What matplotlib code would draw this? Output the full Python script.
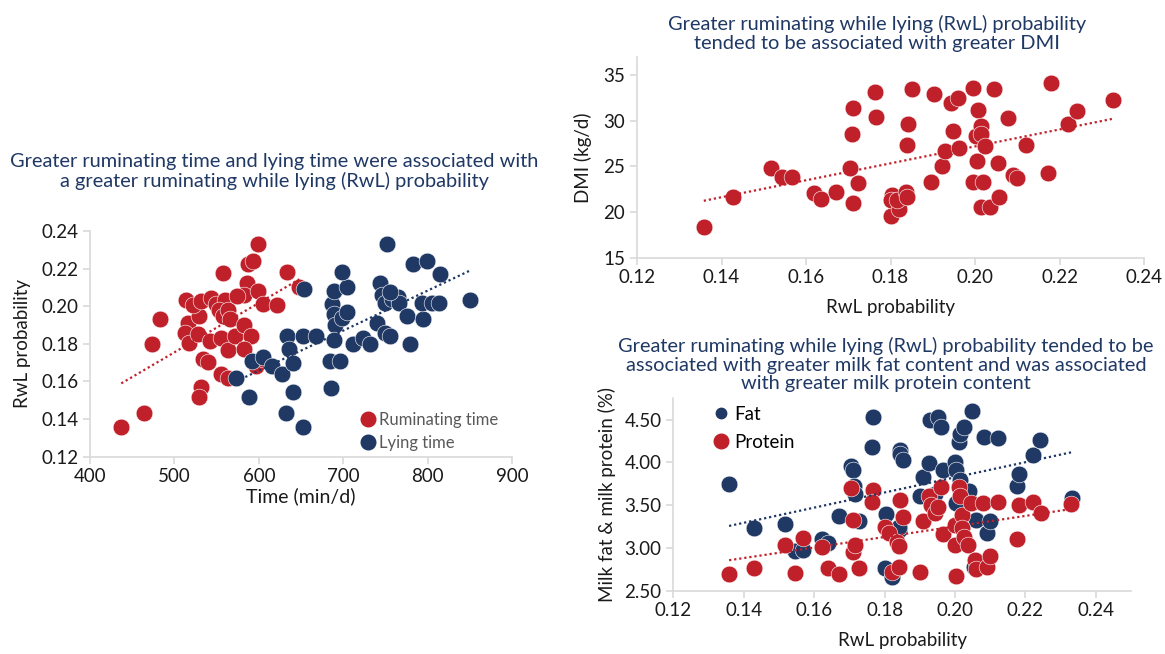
import numpy as np
import matplotlib
matplotlib.use("Agg")
import matplotlib.pyplot as plt
from matplotlib.lines import Line2D

plt.rcParams['font.family'] = ['Lato', 'DejaVu Sans']

RED = '#C0202A'
NAVY = '#1F3864'
TITLE = '#1F3864'
SPINE = '#D9D9D9'
TXT = '#1a1a1a'

# --- left chart: RwL probability vs time ---
rum_time = [437, 464, 473, 483, 514, 516, 513, 517, 528, 529, 522, 532, 543, 549,
            560, 553, 557, 563, 566, 542, 555, 564, 572, 583, 591, 583, 534, 540,
            555, 564, 532, 529, 557, 586, 582, 574, 587, 593, 599, 599, 605, 622,
            633, 648, 597, 605]
rum_prob = [0.136, 0.143, 0.180, 0.193, 0.2035, 0.191, 0.1855, 0.1805, 0.185, 0.195,
            0.2005, 0.203, 0.2046, 0.2014, 0.2035, 0.198, 0.1947, 0.198, 0.1934, 0.1816,
            0.183, 0.1766, 0.184, 0.190, 0.184, 0.177, 0.172, 0.1704, 0.164, 0.1616,
            0.157, 0.152, 0.2177, 0.2124, 0.206, 0.2055, 0.2226, 0.224, 0.233, 0.208,
            0.2014, 0.2005, 0.218, 0.210, 0.168, 0.172]

lie_time = [573, 588, 592, 605, 616, 627, 633, 636, 640, 640, 632, 652, 652, 668,
            654, 687, 689, 689, 690, 689, 699, 705, 705, 699, 684, 696, 686, 711,
            723, 732, 740, 743, 746, 750, 752, 758, 765, 766, 750, 756, 775, 779,
            783, 799, 815, 795, 793, 805, 813, 850, 755]
lie_prob = [0.162, 0.152, 0.171, 0.173, 0.168, 0.164, 0.184, 0.177, 0.170, 0.1545,
            0.143, 0.136, 0.184, 0.184, 0.209, 0.201, 0.208, 0.196, 0.190, 0.182,
            0.194, 0.197, 0.210, 0.218, 0.171, 0.171, 0.1565, 0.180, 0.183, 0.180,
            0.191, 0.2124, 0.206, 0.2015, 0.233, 0.204, 0.205, 0.2015, 0.1855, 0.184,
            0.1947, 0.180, 0.2226, 0.224, 0.2173, 0.193, 0.2017, 0.2017, 0.2017, 0.2035,
            0.2075]

# --- top right: DMI vs RwL probability ---
dmi_rwl = [0.1358, 0.1428, 0.1516, 0.1544, 0.1566, 0.1619, 0.1636, 0.1671, 0.1703,
           0.1708, 0.1710, 0.1712, 0.1724, 0.1763, 0.1765, 0.1800, 0.1803, 0.1800,
           0.1820, 0.1815, 0.1836, 0.1838, 0.1840, 0.1842, 0.1851, 0.1895, 0.1904,
           0.1922, 0.1929, 0.1947, 0.1944, 0.1959, 0.1962, 0.1995, 0.1995, 0.2004,
           0.2006, 0.2002, 0.2014, 0.2014, 0.2018, 0.2023, 0.2015, 0.2036, 0.2045,
           0.2055, 0.2057, 0.2078, 0.2091, 0.2100, 0.2120, 0.2173, 0.2180, 0.2220,
           0.2241, 0.2327]
dmi = [18.4, 21.7, 24.8, 23.8, 23.8, 22.1, 21.4, 22.2, 24.8, 28.6, 31.4, 21.0, 23.2,
       33.2, 30.4, 19.6, 21.9, 21.3, 20.3, 21.3, 22.2, 21.6, 27.3, 29.7, 33.5, 23.3,
       32.9, 25.0, 26.7, 28.9, 31.9, 32.5, 27.0, 33.6, 23.3, 25.6, 31.2, 28.3, 29.4,
       28.6, 23.3, 27.2, 20.5, 20.5, 33.5, 25.4, 21.7, 30.3, 24.1, 23.7, 27.3, 24.3,
       34.2, 29.7, 31.1, 32.3]

# --- bottom right: milk fat & protein vs RwL probability ---
fat_rwl = [0.1358, 0.1430, 0.1518, 0.1545, 0.1568, 0.1622, 0.1638, 0.1671, 0.1704,
           0.1710, 0.1713, 0.1715, 0.1726, 0.1766, 0.1765, 0.1804, 0.1801, 0.1820,
           0.1843, 0.1845, 0.1853, 0.1842, 0.1840, 0.1900, 0.1908, 0.1925, 0.1930,
           0.1953, 0.1960, 0.1966, 0.1944, 0.2001, 0.2004, 0.2010, 0.2015, 0.2026,
           0.2048, 0.2015, 0.2002, 0.2040, 0.2059, 0.2054, 0.2081, 0.2092, 0.2100,
           0.2122, 0.2175, 0.2182, 0.2221, 0.2241, 0.2331]
fat = [3.75, 3.23, 3.28, 2.96, 2.98, 3.11, 3.06, 3.37, 3.96, 3.91, 3.72, 3.63, 3.31,
       4.53, 4.18, 3.40, 2.77, 2.66, 4.14, 4.10, 4.03, 3.21, 3.24, 3.61, 3.83, 3.99,
       4.50, 4.53, 4.41, 3.91, 3.63, 4.00, 3.91, 4.24, 4.33, 4.42, 4.60, 3.79, 3.53,
       3.67, 3.33, 2.78, 4.30, 3.17, 3.32, 4.29, 3.73, 3.87, 4.09, 4.26, 3.58]

prot_rwl = [0.1358, 0.1430, 0.1518, 0.1545, 0.1568, 0.1622, 0.1638, 0.1671, 0.1704,
            0.1710, 0.1715, 0.1710, 0.1726, 0.1766, 0.1765, 0.1801, 0.1812, 0.1820,
            0.1834, 0.1840, 0.1842, 0.1843, 0.1853, 0.1900, 0.1908, 0.1925, 0.1933,
            0.1944, 0.1953, 0.1960, 0.1966, 0.2001, 0.2001, 0.2004, 0.2010, 0.2015,
            0.2021, 0.2021, 0.2026, 0.2037, 0.2045, 0.2057, 0.2059, 0.2079, 0.2090,
            0.2100, 0.2122, 0.2175, 0.2182, 0.2221, 0.2243, 0.2329]
prot = [2.69, 2.76, 3.03, 2.71, 3.12, 3.01, 2.76, 2.70, 3.70, 2.95, 3.03, 3.33, 2.76,
        3.68, 3.54, 3.25, 3.18, 2.72, 3.07, 3.02, 2.78, 3.56, 3.36, 2.72, 3.31, 3.61,
        3.50, 3.41, 3.48, 3.71, 3.16, 3.27, 3.03, 2.67, 3.71, 3.61, 3.38, 3.23, 3.13,
        3.04, 3.53, 2.86, 2.75, 3.53, 2.78, 2.90, 3.54, 3.11, 3.50, 3.54, 3.41, 3.51]


def trend(ax, x, y, color):
    # linear trendline over the data range, like Excel
    m, b = np.polyfit(x, y, 1)
    xs = np.array([min(x), max(x)])
    ax.plot(xs, m * xs + b, color=color, lw=1.6, ls=(0, (1, 1.3)), zorder=3)


def style_ax(ax):
    for s in ['top', 'right']:
        ax.spines[s].set_visible(False)
    for s in ['left', 'bottom']:
        ax.spines[s].set_color(SPINE)
        ax.spines[s].set_linewidth(1.2)
    ax.tick_params(colors=SPINE, labelcolor=TXT, length=5, width=1.2,
                   labelsize=13.5)


fig = plt.figure(figsize=(11.65, 6.54), dpi=100)
dot = 145
TFS = 14.4

# left chart
ax1 = fig.add_axes([0.0773, 0.3017, 0.3622, 0.3451])
ax1.scatter(rum_time, rum_prob, s=dot, color=RED, edgecolor='white', lw=0.4, zorder=2)
ax1.scatter(lie_time, lie_prob, s=dot, color=NAVY, edgecolor='white', lw=0.4, zorder=2)
trend(ax1, rum_time, rum_prob, RED)
trend(ax1, lie_time, lie_prob, NAVY)
ax1.set_xlim(400, 900)
ax1.set_ylim(0.12, 0.24)
ax1.set_xticks([400, 500, 600, 700, 800, 900])
ax1.set_yticks(np.arange(0.12, 0.2401, 0.02))
ax1.yaxis.set_major_formatter(matplotlib.ticker.FormatStrFormatter('%.2f'))
style_ax(ax1)
ax1.set_xlabel('Time (min/d)', fontsize=14, color=TXT, labelpad=1)
ax1.set_ylabel('RwL probability', fontsize=13.5, color=TXT, labelpad=7)
handles = [Line2D([], [], marker='o', ls='', color=RED, markersize=10.5),
           Line2D([], [], marker='o', ls='', color=NAVY, markersize=10.5)]
leg = ax1.legend(handles, ['Ruminating time', 'Lying time'], loc='upper left',
                 bbox_to_anchor=(0.3065, 0.3705), bbox_transform=fig.transFigure,
                 frameon=False, fontsize=12, handletextpad=0.0, labelspacing=0.42,
                 borderaxespad=0, borderpad=0, handlelength=1.3)
for t in leg.get_texts():
    t.set_color('#595959')
fig.text(0.2352, 0.7378, 'Greater ruminating time and lying time were associated with\n'
         'a greater ruminating while lying (RwL) probability',
         ha='center', va='center', fontsize=TFS, color=TITLE, linespacing=1.13)

# top right chart
ax2 = fig.add_axes([0.5468, 0.6060, 0.4352, 0.3069])
ax2.scatter(dmi_rwl, dmi, s=dot, color=RED, edgecolor='white', lw=0.4, zorder=2)
trend(ax2, dmi_rwl, dmi, RED)
ax2.set_xlim(0.12, 0.24)
ax2.set_ylim(15, 37)
ax2.set_xticks(np.arange(0.12, 0.2401, 0.02))
ax2.set_yticks([15, 20, 25, 30, 35])
ax2.xaxis.set_major_formatter(matplotlib.ticker.FormatStrFormatter('%.2f'))
style_ax(ax2)
ax2.set_xlabel('RwL probability', fontsize=13.5, color=TXT, labelpad=9)
ax2.set_ylabel('DMI (kg/d)', fontsize=13.5, color=TXT, labelpad=8)
fig.text(0.7528, 0.9489, 'Greater ruminating while lying (RwL) probability\n'
         'tended to be associated with greater DMI',
         ha='center', va='center', fontsize=TFS, color=TITLE, linespacing=1.13)

# bottom right chart
ax3 = fig.add_axes([0.5781, 0.0968, 0.3927, 0.2942])
ax3.scatter(fat_rwl, fat, s=dot, color=NAVY, edgecolor='white', lw=0.4, zorder=2)
ax3.scatter(prot_rwl, prot, s=dot, color=RED, edgecolor='white', lw=0.4, zorder=2)
trend(ax3, fat_rwl, fat, NAVY)
trend(ax3, prot_rwl, prot, RED)
ax3.set_xlim(0.12, 0.25)
ax3.set_ylim(2.5, 4.75)
ax3.set_xticks(np.arange(0.12, 0.2401, 0.02))
ax3.set_yticks([2.5, 3.0, 3.5, 4.0, 4.5])
ax3.xaxis.set_major_formatter(matplotlib.ticker.FormatStrFormatter('%.2f'))
ax3.yaxis.set_major_formatter(matplotlib.ticker.FormatStrFormatter('%.2f'))
style_ax(ax3)
ax3.set_xlabel('RwL probability', fontsize=13.5, color=TXT, labelpad=9)
ax3.set_ylabel('Milk fat & milk protein (%)', fontsize=13.5, color=TXT, labelpad=6)
handles = [Line2D([], [], marker='o', ls='', color=NAVY, markersize=7.5),
           Line2D([], [], marker='o', ls='', color=RED, markersize=10.5)]
ax3.legend(handles, ['Fat', 'Protein'], loc='upper left', bbox_to_anchor=(0.6026, 0.391),
           bbox_transform=fig.transFigure, frameon=False, fontsize=13.5,
           handletextpad=0.1, labelspacing=0.6, borderaxespad=0, handlelength=1.2)
fig.text(0.7605, 0.4427, 'Greater ruminating while lying (RwL) probability tended to be\n'
         'associated with greater milk fat content and was associated\n'
         'with greater milk protein content',
         ha='center', va='center', fontsize=TFS, color=TITLE, linespacing=1.13)

fig.savefig('out.png', dpi=100)
